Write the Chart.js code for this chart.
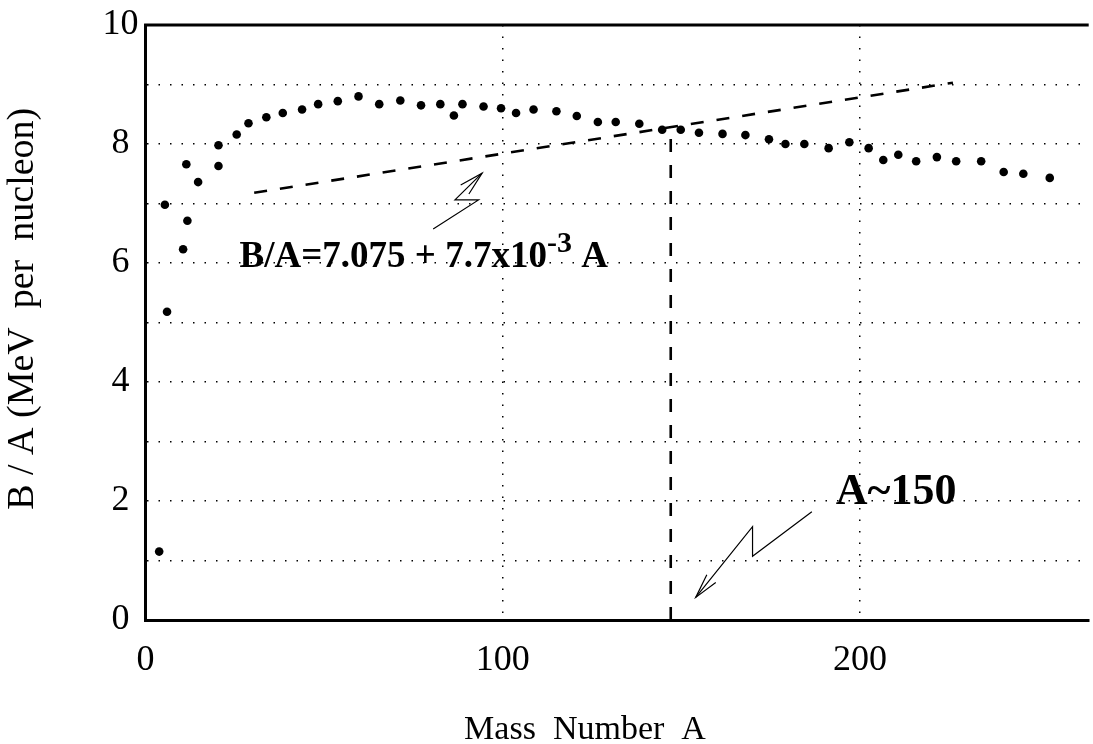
<!DOCTYPE html>
<html>
<head>
<meta charset="utf-8">
<script src="https://cdn.jsdelivr.net/npm/chart.js@4/dist/chart.umd.min.js"></script>
<style>
  html, body { margin: 0; padding: 0; background: #fff; }
</style>
</head>
<body>
<canvas id="bindingChart" width="1093" height="744"></canvas>
<script>
// measured points: mass number A and binding energy per nucleon (MeV)
const massNumber = [3.8, 5.4, 6.0, 10.5, 11.4, 11.7, 14.7, 20.4, 20.4, 25.5, 28.8, 33.8, 38.4, 43.8, 48.3, 53.8,
  59.6, 65.4, 71.3, 77.1, 82.5, 86.3, 88.7, 94.6, 99.5, 103.7, 108.6, 115.0, 120.7, 126.6, 131.6, 138.2,
  144.6, 149.8, 154.9, 161.5, 167.9, 174.5, 179.1, 184.4, 191.2, 197.0, 202.4, 206.5, 210.7, 215.7, 221.5,
  226.9, 233.9, 240.2, 245.7, 253.1];
const bindingPerNucleon = [1.15, 6.98, 5.18, 6.23, 7.66, 6.71, 7.36, 7.63, 7.98, 8.16, 8.35, 8.45, 8.52, 8.58, 8.67, 8.72,
  8.80, 8.67, 8.73, 8.65, 8.67, 8.48, 8.67, 8.63, 8.60, 8.52, 8.58, 8.55, 8.47, 8.37, 8.37, 8.34,
  8.24, 8.24, 8.19, 8.17, 8.15, 8.08, 8.00, 8.00, 7.93, 8.03, 7.93, 7.73, 7.82, 7.71, 7.78,
  7.71, 7.71, 7.53, 7.50, 7.43];

// straight-line fit drawn over the curve, and the A~150 marker
const fitA = [30.4, 226];
const fitBA = [7.18, 9.03];
const markerA = [147, 147];
const markerBA = [0, 8.22];

// zig-zag arrows (body and head)
const arrow1A = [80.5, 93.2, 86.6, 94.2];
const arrow1BA = [6.57, 7.06, 7.06, 7.51];
const arrow1HeadA = [88.2, 94.2, 90.5];
const arrow1HeadBA = [7.31, 7.51, 7.16];
const arrow2A = [186.5, 169.9, 169.9, 154.0];
const arrow2BA = [1.82, 1.07, 1.57, 0.38];
const arrow2HeadA = [157.1, 154.0, 159.6];
const arrow2HeadBA = [0.76, 0.38, 0.63];

// axes
const xTicks = [0, 100, 200];
const xMax = 264;
const yLabelled = [0, 2, 4, 6, 8, 10];

// annotation texts, anchored at data coordinates (left baseline)
const formulaText = 'B/A=7.075 + 7.7x10';
const formulaExp = '-3';
const formulaTail = ' A';
const formulaAt = [26.3, 5.93];
const peakText = 'A~150';
const peakAt = [193.2, 1.95];
const xTitle = 'Mass  Number  A';
const xTitleAt = 123;
const yTitle = 'B / A (MeV  per  nucleon)';
const yTitleAt = 5.23;

const serif = '"Liberation Serif", "Times New Roman", serif';

function pts(xs, ys) {
  return xs.map((v, i) => ({ x: v, y: ys[i] }));
}

function lineSet(xs, ys, width, dash) {
  return {
    data: pts(xs, ys),
    showLine: true,
    borderColor: '#000',
    borderWidth: width,
    borderDash: dash || [],
    pointRadius: 0,
    fill: false
  };
}

const annotations = {
  id: 'annotations',
  afterDraw(chart) {
    const { ctx, chartArea, scales: { x, y } } = chart;
    ctx.save();
    // top frame line
    ctx.strokeStyle = '#000';
    ctx.lineWidth = 3;
    ctx.beginPath();
    ctx.moveTo(chartArea.left - 1.5, chartArea.top);
    ctx.lineTo(chartArea.right, chartArea.top);
    ctx.stroke();

    ctx.fillStyle = '#000';
    ctx.textAlign = 'left';
    ctx.textBaseline = 'alphabetic';

    let px = x.getPixelForValue(formulaAt[0]);
    const py = y.getPixelForValue(formulaAt[1]);
    ctx.font = 'bold 37px ' + serif;
    ctx.fillText(formulaText, px, py);
    px += ctx.measureText(formulaText).width;
    ctx.font = 'bold 30px ' + serif;
    ctx.fillText(formulaExp, px, py - 15);
    px += ctx.measureText(formulaExp).width;
    ctx.font = 'bold 37px ' + serif;
    ctx.fillText(formulaTail, px, py);

    ctx.font = 'bold 44px ' + serif;
    ctx.fillText(peakText, x.getPixelForValue(peakAt[0]), y.getPixelForValue(peakAt[1]));

    // axis titles
    ctx.font = '34px ' + serif;
    ctx.textAlign = 'center';
    ctx.fillText(xTitle, x.getPixelForValue(xTitleAt), chart.height - 5);

    ctx.translate(23, y.getPixelForValue(yTitleAt));
    ctx.rotate(-Math.PI / 2);
    ctx.font = '38px ' + serif;
    ctx.textBaseline = 'middle';
    ctx.fillText(yTitle, 0, 0);
    ctx.restore();
  }
};

const ctx = document.getElementById('bindingChart').getContext('2d');

new Chart(ctx, {
  type: 'scatter',
  data: {
    datasets: [
      {
        label: 'B/A',
        data: pts(massNumber, bindingPerNucleon),
        pointRadius: 4.3,
        pointBackgroundColor: '#000',
        pointBorderWidth: 0,
        showLine: false
      },
      lineSet(fitA, fitBA, 2.6, [13, 13]),
      lineSet(markerA, markerBA, 2.6, [13, 13]),
      lineSet(arrow1A, arrow1BA, 1.2),
      lineSet(arrow1HeadA, arrow1HeadBA, 1.2),
      lineSet(arrow2A, arrow2BA, 1.2),
      lineSet(arrow2HeadA, arrow2HeadBA, 1.2)
    ]
  },
  options: {
    responsive: false,
    animation: false,
    layout: { padding: { top: 20, left: 0, right: 0, bottom: 0 } },
    plugins: {
      legend: { display: false },
      tooltip: { enabled: false }
    },
    scales: {
      x: {
        type: 'linear',
        min: 0,
        max: xMax,
        afterBuildTicks: scale => { scale.ticks = xTicks.map(v => ({ value: v })); },
        afterFit: scale => { scale.height = 124; },
        grid: { color: '#000', lineWidth: 1.5, drawTicks: false },
        border: { display: true, color: '#000', width: 3, dash: [1.5, 10] },
        ticks: {
          color: '#000',
          font: { family: serif, size: 36, lineHeight: 1 },
          padding: 23,
          maxRotation: 0,
          autoSkip: false
        }
      },
      y: {
        min: 0,
        max: 10,
        afterFit: scale => { scale.width = 145.6; },
        grid: { color: '#000', lineWidth: 1.5, drawTicks: false },
        border: { display: true, color: '#000', width: 3, dash: [1.5, 10] },
        ticks: {
          stepSize: 1,
          color: '#000',
          font: { family: serif, size: 36, lineHeight: 1 },
          crossAlign: 'center',
          padding: 7,
          callback: v => (yLabelled.includes(v) ? String(v) : '')
        }
      }
    }
  },
  plugins: [annotations]
});
</script>
</body>
</html>
